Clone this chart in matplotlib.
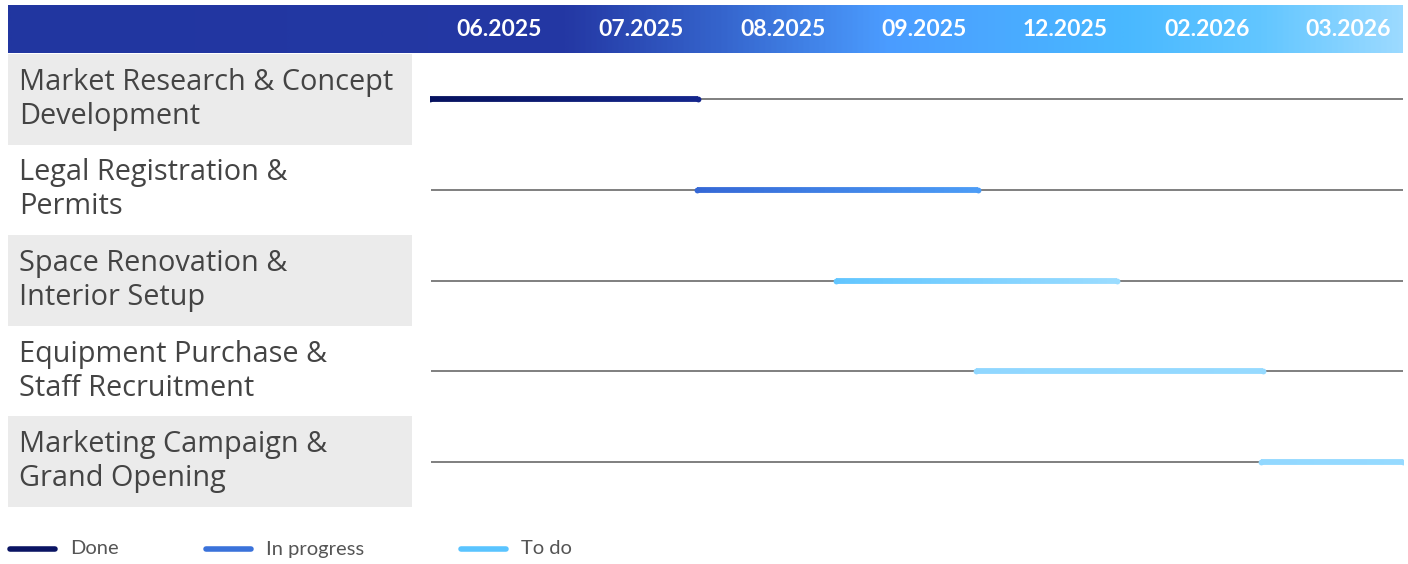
import numpy as np
import matplotlib.pyplot as plt
from matplotlib.colors import LinearSegmentedColormap, to_rgb
from matplotlib.collections import LineCollection

plt.rcParams['font.family'] = ['Lato', 'DejaVu Sans']

# ----------------------------
# Plan data
# ----------------------------
months = ['06.2025', '07.2025', '08.2025', '09.2025', '12.2025', '02.2026', '03.2026']
tasks = ['Market Research & Concept\nDevelopment',
         'Legal Registration &\nPermits',
         'Space Renovation &\nInterior Setup',
         'Equipment Purchase &\nStaff Recruitment',
         'Marketing Campaign &\nGrand Opening']
# start / end in month-column units
task_start = [0.0, 1.92, 2.92, 3.93, 5.98]
task_end = [1.93, 3.94, 4.94, 5.99, 7.0]
task_status = ['Done', 'In progress', 'To do', 'To do', 'To do']
statuses = ['Done', 'In progress', 'To do']

# bar colours (left -> right shade)
bar_shades = [('#06125f', '#14268c'),
              ('#3568d6', '#4c9cf6'),
              ('#62c6ff', '#9adcff'),
              ('#90d7ff', '#96daff'),
              ('#92d8ff', '#96daff')]
legend_colors = {'Done': '#0a1463', 'In progress': '#3a72da', 'To do': '#5ac4ff'}

W, H = 1408, 564
fig = plt.figure(figsize=(W / 100, H / 100), dpi=100)

def px_axes(x0, y0, x1, y1):
    return fig.add_axes([x0 / W, 1 - y1 / H, (x1 - x0) / W, (y1 - y0) / H])

# ----------------------------
# Header band with gradient
# ----------------------------
hdr = px_axes(8, 5, 1403, 53)
hdr_cmap = LinearSegmentedColormap.from_list('hdr', [
    (0.0, '#2136a0'), (0.40, '#2438a4'), (0.51, '#3564cc'),
    (0.63, '#4b9cff'), (0.80, '#49b8ff'), (0.90, '#62c6ff'), (1.0, '#9cdaff')])
hdr.imshow(np.linspace(0, 1, 512)[None, :], cmap=hdr_cmap, aspect='auto',
           extent=[0, 1, 0, 1])
hdr.axis('off')

# ----------------------------
# Task label column
# ----------------------------
lab = px_axes(8, 54, 412, 507)
lab.set_xlim(0, 1)
lab.set_ylim(len(tasks), 0)
for i, name in enumerate(tasks):
    if i % 2 == 0:
        lab.axhspan(i, i + 1, color='#ebebeb', lw=0)
    lab.text(11 / 404, i + 0.5, name, ha='left', va='center', fontsize=20.8,
             family=['Open Sans', 'DejaVu Sans'], fontweight='normal',
             color='#444444', linespacing=1.22)
lab.axis('off')

# ----------------------------
# Timeline
# ----------------------------
ax = px_axes(430, 54, 1403, 507)
ax.set_xlim(0, len(months))
ax.set_ylim(len(tasks), 0)
ax.axis('off')

for i in range(len(tasks)):
    y = i + 0.5
    ax.plot([0.01, len(months)], [y, y], color='#6a6a6a', lw=1.2,
            solid_capstyle='butt', zorder=1)
    # gradient bar drawn as short segments
    xs = np.linspace(task_start[i], task_end[i], 60)
    segs = [[(xs[k], y), (xs[k + 1], y)] for k in range(len(xs) - 1)]
    c0, c1 = np.array(to_rgb(bar_shades[i][0])), np.array(to_rgb(bar_shades[i][1]))
    cols = [c0 + (c1 - c0) * t for t in np.linspace(0, 1, len(segs))]
    ax.add_collection(LineCollection(segs, colors=cols, linewidths=4.2,
                                     capstyle='butt', zorder=2))
    # rounded ends
    ax.plot([task_start[i]], [y], 'o', ms=4.2, color=c0, mew=0, zorder=3)
    ax.plot([task_end[i]], [y], 'o', ms=4.2, color=c1, mew=0, zorder=3)

for k, m in enumerate(months):
    ax.text(0.5 + k * 1.018, -0.275, m, ha='center', va='center', fontsize=16.5,
            fontweight='bold', color='white', clip_on=False)

# ----------------------------
# Legend
# ----------------------------
leg = px_axes(0, 530, W, 564)
leg.set_xlim(0, W)
leg.set_ylim(34, 0)
leg.axis('off')
for k, s in enumerate(statuses):
    x0 = [8, 204, 459][k]
    leg.plot([x0 + 2, x0 + 47], [19, 19], color=legend_colors[s], lw=4,
             solid_capstyle='round')
    leg.text(x0 + 62, 19, s, ha='left', va='center', fontsize=14.5, color='#555555')

fig.savefig('out.png', dpi=100)
